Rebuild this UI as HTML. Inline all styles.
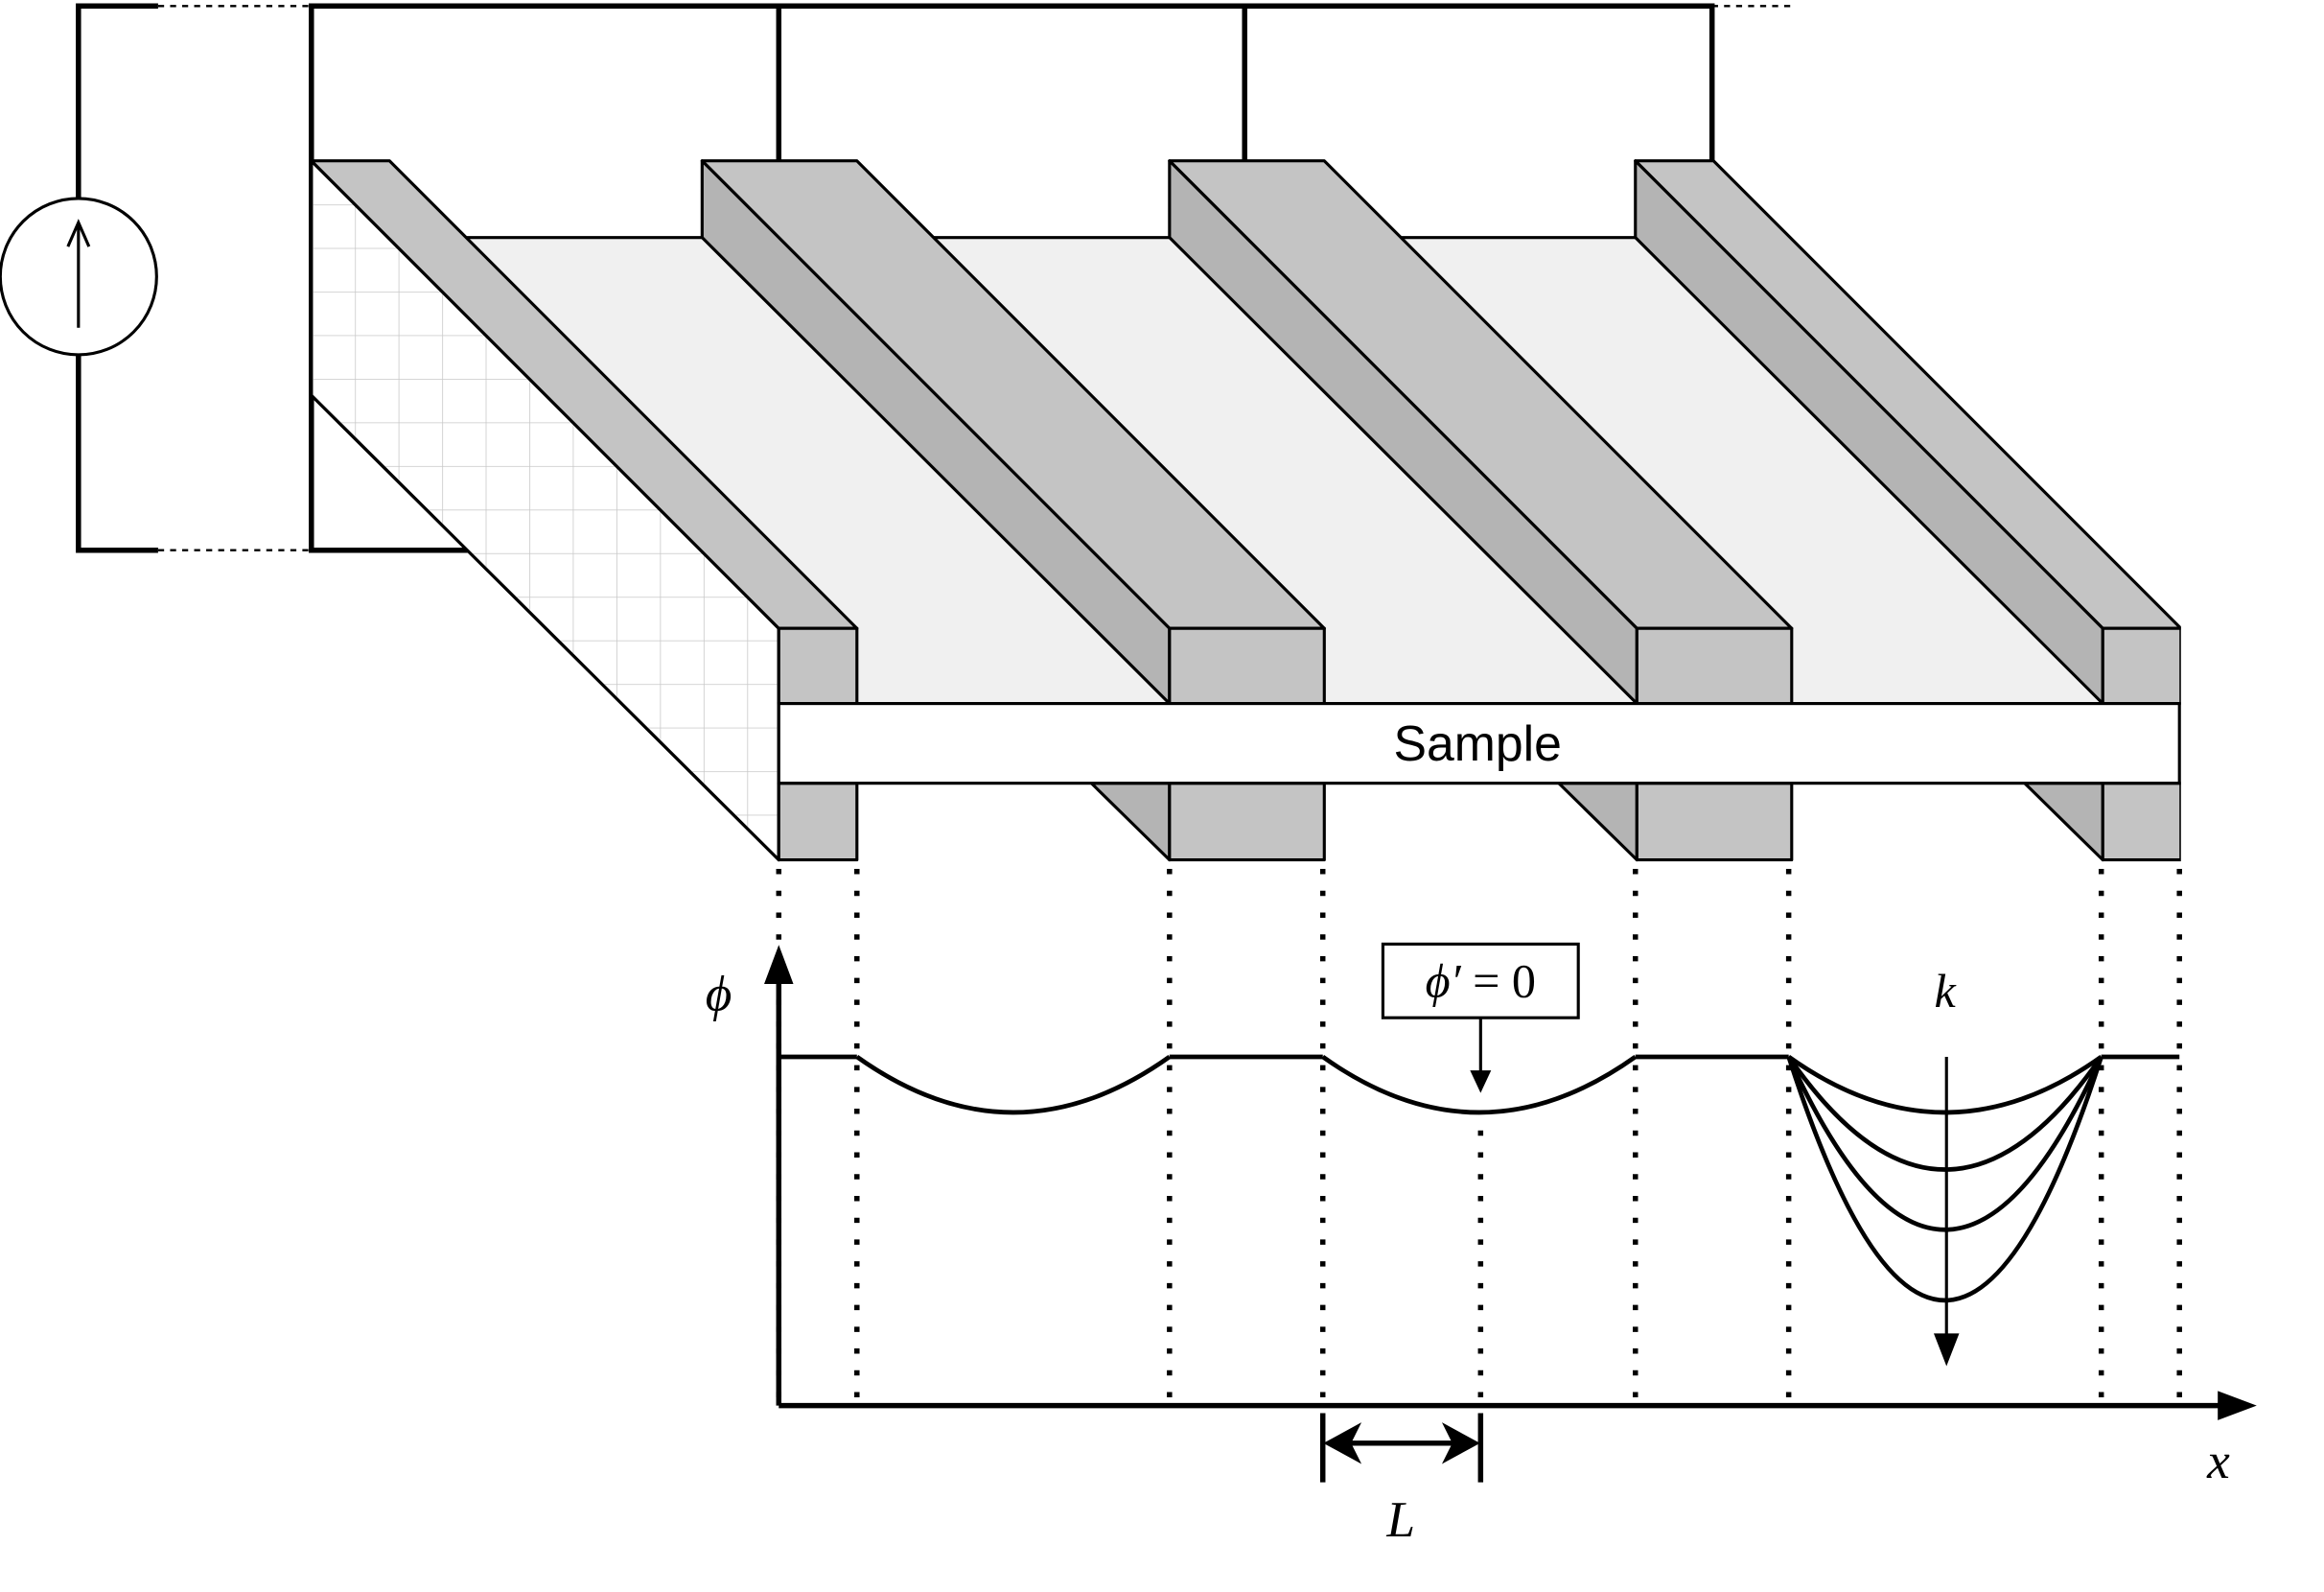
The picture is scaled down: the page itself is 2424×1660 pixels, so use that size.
<!DOCTYPE html>
<html><head><meta charset="utf-8"><style>
html,body{margin:0;padding:0;background:#fff;}
svg{display:block;}
text{font-family:"Liberation Serif",serif;font-style:italic;}
</style></head><body>
<svg id="fig" width="2424" height="1660" viewBox="0 0 1546 1059" xmlns="http://www.w3.org/2000/svg">
<defs>
<pattern id="grid" width="29" height="29" patternUnits="userSpaceOnUse" x="207" y="107">
<path d="M0 0H29M0 0V29" stroke="#c8c8c8" stroke-width="1" fill="none"/>
</pattern>
<clipPath id="clipR"><rect x="0" y="0" width="1451" height="1059"/></clipPath>
</defs>
<g fill="none" stroke="#000">
<path d="M105 4H52V132M52 236V366H105" stroke-width="3.5"/>
<circle cx="52" cy="184" r="52" stroke-width="2" fill="#fff"/>
<path d="M52 218V150M45 164L52 148L59 164" stroke-width="2"/>
<path d="M105 4H207M105 366H207M1139 4H1192" stroke-width="1.5" stroke-dasharray="4,4"/>
<path d="M312 366H207V4H1139V107M518 4V107M828 4V107" stroke-width="3.5"/>
</g>
<g clip-path="url(#clipR)">
<g stroke="#000" stroke-width="2" stroke-linejoin="round">
<polygon points="207,158 1139,158 1450,468 518,468" fill="#f0f0f0"/>
<polygon points="207,107 518,418 518,572 207,263" fill="#fff"/>
<polygon points="207,107 518,418 518,572 207,263" fill="url(#grid)"/>
</g>
<g id="electrodes" stroke="#000" stroke-width="2" stroke-linejoin="round"></g>
</g>
<g>
<rect x="518" y="468" width="932" height="53" fill="#fff" stroke="#000" stroke-width="2"/>
<text x="983" y="506" font-size="33" text-anchor="middle" style="font-family:'Liberation Sans',sans-serif;font-style:normal">Sample</text>
</g>
<g id="dots" stroke="#000" stroke-width="3.5" stroke-dasharray="3.5,11"></g>
<g stroke="#000" stroke-width="3.5" fill="none">
<path d="M518 935V640"/>
<path d="M509 654L518 630L527 654Z" fill="#000" stroke-width="1"/>
<path d="M518 935H1490"/>
<path d="M1476 926L1500 935L1476 944Z" fill="#000" stroke-width="1"/>
</g>
<text x="478" y="672" font-size="34" text-anchor="middle">ϕ</text>
<text x="1476" y="983" font-size="34" text-anchor="middle">x</text>
<g id="curves" fill="none" stroke="#000" stroke-width="3"></g>
<g stroke="#000" stroke-width="2">
<path d="M1295 703V893"/>
<path d="M1288 888L1295 906L1302 888Z" fill="#000"/>
</g>
<text x="1294" y="670" font-size="32" text-anchor="middle">k</text>
<g>
<rect x="920" y="628" width="130" height="49" fill="#fff" stroke="#000" stroke-width="2"/>
<text x="985" y="663" font-size="32" text-anchor="middle">ϕ′ <tspan style="font-style:normal">= 0</tspan></text>
<path d="M985 677V718" stroke="#000" stroke-width="2"/>
<path d="M978 712L985 727L992 712Z" fill="#000"/>
</g>
<g stroke="#000" stroke-width="3.5">
<path d="M880 940V986M985 940V986M895 960H970"/>
<path d="M882 960L904 948L898 960L904 972Z M983 960L961 948L967 960L961 972Z" fill="#000" stroke-width="1.5"/>
</g>
<text x="932" y="1022" font-size="34" text-anchor="middle">L</text>
<script>
const electrodeStarts=[207,467,778,1088];
const electrodeWidths=[52,103,103,52];
const cellStarts=[570,880,1190];
const cellDepths1=[37];
const cellDepths2=[37];
const cellDepths3=[37,75,115,162];
const baseY=703, cellW=208, D=311;
const NS='http://www.w3.org/2000/svg';
const eg=document.getElementById('electrodes');
function mk(tag,attrs,parent){const e=document.createElementNS(NS,tag);for(const k in attrs)e.setAttribute(k,attrs[k]);parent.appendChild(e);return e;}
electrodeStarts.forEach((x,i)=>{
  const w=electrodeWidths[i];
  const g=mk('g',{},eg);
  
  
  const fx=x+D, fr=fx+w;
  mk('polygon',{points:`${x},107 ${x+w},107 ${x+w+D},418 ${fx},418`,fill:'#c4c4c4'},g);
  if(i>0){
    mk('polygon',{points:`${x},107 ${fx},418 ${fx},468 ${x},158`,fill:'#b4b4b4'},g);
    mk('polygon',{points:`${fx-52},521 ${fx},521 ${fx},572`,fill:'#b4b4b4'},g);
  }
  mk('rect',{x:fx,y:418,width:fr-fx,height:50,fill:'#c4c4c4'},g);
  mk('rect',{x:fx,y:521,width:fr-fx,height:51,fill:'#c4c4c4'},g);
});
const dg=document.getElementById('dots');
[518,570,778,880,1088,1190,1398,1450].forEach(x=>{
  const l=mk('line',{x1:x,y1:578,x2:x,y2:935},dg);
  
  
});
mk('line',{x1:985,y1:752,x2:985,y2:935},dg);
const cg=document.getElementById('curves');
const flat=mk('path',{d:`M518 ${baseY}H570M778 ${baseY}H880M1088 ${baseY}H1190M1398 ${baseY}H1450`},cg);


[cellDepths1,cellDepths2,cellDepths3].forEach((arr,ci)=>{
  const x0=cellStarts[ci];
  arr.forEach(d=>{
    const p=mk('path',{d:`M${x0} ${baseY}Q${x0+cellW/2} ${baseY+2*d} ${x0+cellW} ${baseY}`},cg);
    
    
  });
});
</script>
</svg>
</body></html>
